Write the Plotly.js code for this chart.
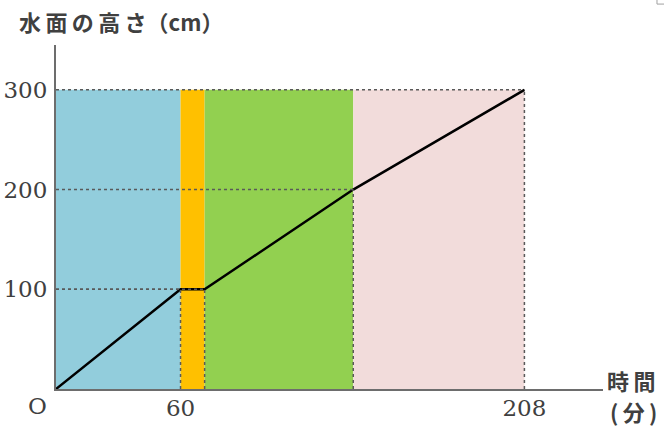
<!DOCTYPE html>
<html>
<head>
<meta charset="utf-8">
<script src="https://cdn.plot.ly/plotly-3.0.1.min.js"></script>
<style>
  html, body { margin: 0; padding: 0; background: #fff; }
  #chart { width: 664px; height: 431px; }
</style>
</head>
<body>
<div id="chart"></div>
<script>
// schematic time positions (the picture is not drawn to scale)
var times = [0, 55.3, 66, 132, 208];
var levels = [0, 100, 100, 200, 300];

var bandStart = [0, 55.3, 66, 132];
var bandEnd = [55.3, 66, 132, 208];
var bandTop = 300;
var bandColors = ['#92cddc', '#ffc000', '#92d050', '#f2dcdb'];

var xTickVals = [55.3, 208];
var xTickText = ['60', '208'];
var yTickVals = [100, 200, 300];

var dotColor = '#595959';
var shapes = [];

// coloured bands
for (var i = 0; i < bandStart.length; i++) {
  shapes.push({
    type: 'rect', xref: 'x', yref: 'y', layer: 'below',
    x0: bandStart[i], x1: bandEnd[i], y0: 0, y1: bandTop,
    fillcolor: bandColors[i], line: {width: 0}
  });
}

// dotted guide lines from each break point to both axes
for (var j = 1; j < times.length; j++) {
  shapes.push({
    type: 'line', xref: 'x', yref: 'y',
    x0: times[j], x1: times[j], y0: 0, y1: levels[j],
    line: {color: dotColor, width: 1.5, dash: 'dot'}
  });
  shapes.push({
    type: 'line', xref: 'x', yref: 'y',
    x0: 0, x1: times[j], y0: levels[j], y1: levels[j],
    line: {color: dotColor, width: 1.5, dash: 'dot'}
  });
}

// little corner mark at the top right of the picture
shapes.push({
  type: 'path', xref: 'paper', yref: 'paper',
  path: 'M 1.0987 1.131 L 1.0987 1.119 L 1.12 1.119',
  line: {color: '#a0a0a0', width: 1}
});

var water = {
  x: times,
  y: levels,
  type: 'scatter',
  mode: 'lines',
  line: {color: '#000', width: 2.5},
  hoverinfo: 'skip'
};

var txtFont = {family: 'Noto Sans CJK JP', size: 22, weight: 'bold', color: '#404040'};
var numFont = {family: 'DejaVu Serif', size: 23, color: '#404040'};
var sp = '\u2009';

var layout = {
  width: 664,
  height: 431,
  margin: {l: 56, r: 61, t: 45, b: 42},
  paper_bgcolor: '#fff',
  plot_bgcolor: '#fff',
  showlegend: false,
  xaxis: {
    range: [0, 242.9],
    showgrid: false,
    zeroline: false,
    showline: true,
    linecolor: '#6d6d6d',
    linewidth: 2,
    tickmode: 'array',
    tickvals: xTickVals,
    ticktext: xTickText,
    ticks: '',
    ticklabelstandoff: -3,
    tickfont: numFont
  },
  yaxis: {
    range: [0, 345],
    showgrid: false,
    zeroline: false,
    showline: true,
    linecolor: '#6d6d6d',
    linewidth: 2,
    tickmode: 'array',
    tickvals: yTickVals,
    ticks: '',
    ticklabelstandoff: 2,
    tickfont: numFont
  },
  shapes: shapes,
  annotations: [
    {text: ['水', '面', 'の', '高', 'さ（cm）'].join(sp), xref: 'paper', yref: 'paper',
     x: -0.071, y: 1.07, xanchor: 'left', yanchor: 'middle', showarrow: false, font: txtFont},
    {text: 'O', xref: 'paper', yref: 'paper', x: -0.034, y: -0.05,
     xanchor: 'center', yanchor: 'middle', showarrow: false, font: numFont},
    {text: '時' + sp + '間', xref: 'paper', yref: 'paper', x: 1.0512, y: 0.027,
     xanchor: 'center', yanchor: 'middle', showarrow: false, font: txtFont},
    {text: '(' + sp + '分' + sp + ')', xref: 'paper', yref: 'paper', x: 1.055, y: -0.065,
     xanchor: 'center', yanchor: 'middle', showarrow: false, font: txtFont}
  ]
};

var config = {staticPlot: true, displayModeBar: false};

Plotly.newPlot('chart', [water], layout, config);
</script>
</body>
</html>
